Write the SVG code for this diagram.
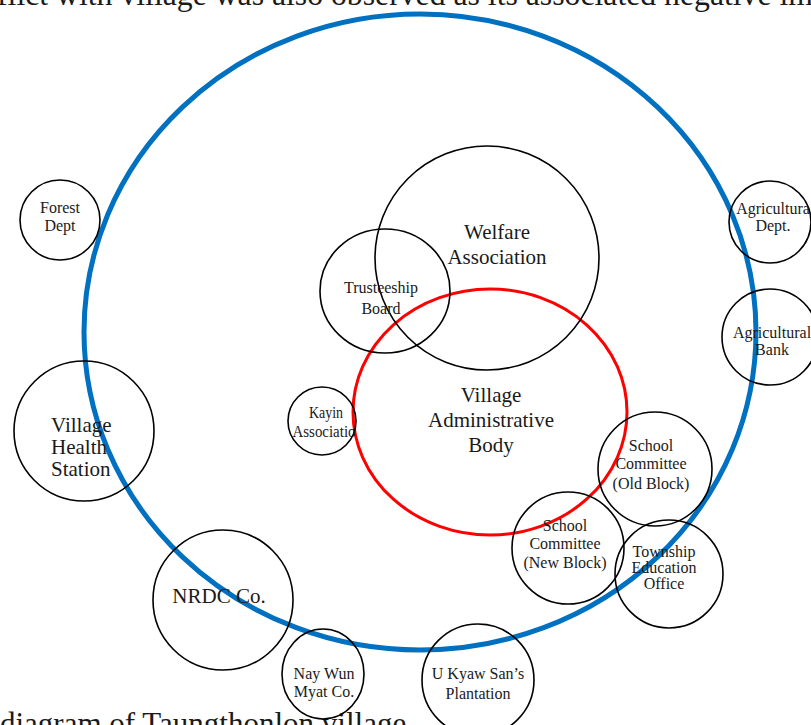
<svg xmlns="http://www.w3.org/2000/svg" width="811" height="725" viewBox="0 0 811 725">
<style>
.n{fill:none;stroke:#000;stroke-width:1.6}
text{font-family:"Liberation Serif","Times New Roman",serif;fill:#1a1a1a;text-anchor:middle}
.cap{font-size:31px;text-anchor:start}
.s{font-size:16px}
.l{font-size:21px}
.st{text-anchor:start}
</style>
<rect width="811" height="725" fill="#fff"/>
<text class="cap" x="-3" y="5" textLength="816" lengthAdjust="spacingAndGlyphs">flict with village was also observed as its associated negative im</text>
<text class="cap" x="0" y="734">diagram of Taungthonlon village</text>
<g id="outer"><ellipse cx="420" cy="332" rx="336" ry="318" fill="none" stroke="#0070C0" stroke-width="5"/></g>
<g id="vab"><ellipse cx="490" cy="412" rx="137" ry="123" fill="none" stroke="#FF0000" stroke-width="3"/>
<text class="l" x="491" y="402">Village</text><text class="l" x="491" y="427">Administrative</text><text class="l" x="491" y="452">Body</text></g>
<g id="welfare"><circle class="n" cx="487" cy="258" r="112"/>
<text class="l" x="497" y="239">Welfare</text><text class="l" x="497" y="264">Association</text></g>
<g id="trustee"><ellipse class="n" cx="385" cy="291" rx="65" ry="62"/>
<text class="s" x="381" y="293">Trusteeship</text><text class="s" x="381" y="314">Board</text></g>
<g id="forest"><circle class="n" cx="60" cy="220" r="40"/>
<text class="s" x="60" y="213">Forest</text><text class="s" x="60" y="231">Dept</text></g>
<g id="agdept"><circle class="n" cx="770" cy="222" r="41"/>
<text class="s" x="773" y="214">Agricultura</text><text class="s" x="773" y="231">Dept.</text></g>
<g id="agbank"><circle class="n" cx="770" cy="337" r="48"/>
<text class="s" x="772" y="338">Agricultural</text><text class="s" x="772" y="355">Bank</text></g>
<g id="health"><circle class="n" cx="84" cy="431" r="70"/>
<text class="l st" x="51" y="432">Village</text><text class="l st" x="51" y="454">Health</text><text class="l st" x="51" y="476">Station</text></g>
<g id="kayin"><circle class="n" cx="322" cy="421" r="34"/>
<text class="s" x="326" y="418" textLength="34" lengthAdjust="spacingAndGlyphs">Kayin</text><text class="s" x="324" y="437" textLength="63" lengthAdjust="spacingAndGlyphs">Associatio</text></g>
<g id="scold"><circle class="n" cx="655" cy="469" r="57"/>
<text class="s" x="651" y="451">School</text><text class="s" x="651" y="469">Committee</text><text class="s" x="651" y="489">(Old Block)</text></g>
<g id="scnew"><circle class="n" cx="568" cy="548" r="56"/>
<text class="s" x="565" y="531">School</text><text class="s" x="565" y="549">Committee</text><text class="s" x="565" y="568">(New Block)</text></g>
<g id="teo"><circle class="n" cx="669" cy="574" r="54"/>
<text class="s" x="664" y="557">Township</text><text class="s" x="664" y="573">Education</text><text class="s" x="664" y="589">Office</text></g>
<g id="nrdc"><circle class="n" cx="223" cy="600" r="70"/>
<text class="l" x="219" y="603">NRDC Co.</text></g>
<g id="naywun"><ellipse class="n" cx="323" cy="674" rx="41" ry="45"/>
<text class="s" x="324" y="679">Nay Wun</text><text class="s" x="324" y="697">Myat Co.</text></g>
<g id="ukyaw"><circle class="n" cx="478" cy="680" r="56"/>
<text class="s" x="478" y="679">U Kyaw San’s</text><text class="s" x="478" y="699">Plantation</text></g>
</svg>
